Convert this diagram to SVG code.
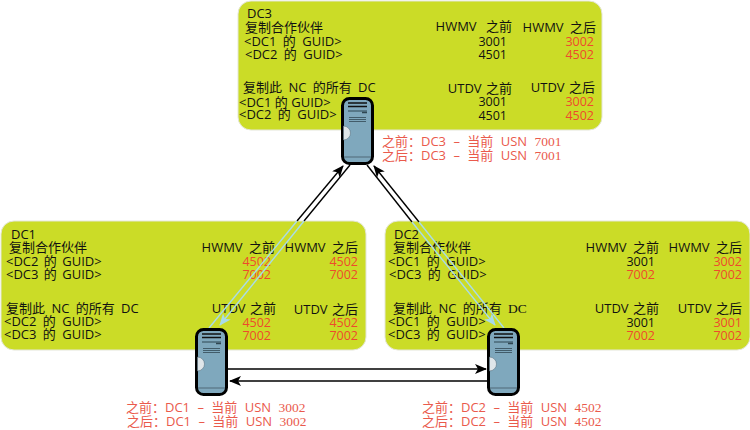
<svg xmlns="http://www.w3.org/2000/svg" width="750" height="430" viewBox="0 0 750 430">
<style>
text{font-family:"Open Sans","Noto Sans CJK SC",sans-serif;font-size:13px;fill:#111;white-space:pre}
.box{fill:#cbdc27;stroke:#e4e6d8;stroke-width:1}
.n{font-size:12.5px;text-anchor:end}
.r{fill:#ee4a2c}
.h{text-anchor:end;word-spacing:3px}
.u{text-anchor:end;word-spacing:1px}
.note{fill:#ea5a4c;word-spacing:4px}
.s{font-family:"Liberation Serif","Noto Sans CJK SC",serif;font-size:13.5px}
.l{fill:none;stroke:#000;stroke-width:1.4}
.b{fill:none;stroke:#a9dbe9;stroke-width:1.4}
</style>
<defs>
<marker id="ak" viewBox="0 0 12 10" refX="11" refY="5" markerWidth="12" markerHeight="10" markerUnits="userSpaceOnUse" orient="auto"><path d="M0 0L12 5L0 10L3 5Z" fill="#000"/></marker>
<marker id="ab" viewBox="0 0 12 10" refX="11" refY="5" markerWidth="12" markerHeight="10" markerUnits="userSpaceOnUse" orient="auto"><path d="M0 0L12 5L0 10L3 5Z" fill="#a9dbe9"/></marker>
<g id="srv">
<rect x="1.5" y="1.5" width="30" height="65" rx="7" fill="#7fa8bd" stroke="#000" stroke-width="3"/>
<path d="M2.500 29a7 7 0 0 1 0 14Z" fill="#dfe6ea" stroke="#5c7684" stroke-width=".6"/>
<path d="M7 6h19M7 9.500h19" stroke="#111" stroke-width="1.500"/>
<path d="M7 14h19" stroke="#2f4652" stroke-width="1"/>
<path d="M21 15.500h5" stroke="#2f4652" stroke-width="1.500"/>
<path d="M8 20.500h17M8 22.500h17M8 24.500h17" stroke="#3b5361" stroke-width=".9"/>
<path d="M3 60h27" stroke="#577483" stroke-width="1.200"/>
</g>
</defs>

<g id="dc3-panel">
<rect class="box" x="238" y="1" width="364" height="129" rx="13"/>
<text x="247" y="18">DC3</text>
<text x="245" y="32">复制合作伙伴</text>
<text x="244" y="46" style="word-spacing:3px">&lt;DC1 的 GUID&gt;</text>
<text x="245" y="59" style="word-spacing:3px">&lt;DC2 的 GUID&gt;</text>
<text x="243" y="92" style="word-spacing:3px">复制此 NC 的所有 DC</text>
<text x="239" y="107">&lt;DC1 的 GUID&gt;</text>
<text x="239" y="119" style="word-spacing:3px">&lt;DC2 的 GUID&gt;</text>
<text class="h" x="512" y="31" style="word-spacing:6px">HWMV 之前</text>
<text class="h" x="596" y="32">HWMV 之后</text>
<text class="n" x="507" y="46">3001</text>
<text class="n r" x="594" y="46">3002</text>
<text class="n" x="507" y="59">4501</text>
<text class="n r" x="594" y="59">4502</text>
<text class="u" x="512" y="93">UTDV 之前</text>
<text class="u" x="595" y="92">UTDV 之后</text>
<text class="n" x="507" y="106">3001</text>
<text class="n r" x="594" y="106">3002</text>
<text class="n" x="507" y="120">4501</text>
<text class="n r" x="594" y="120">4502</text>
</g>

<g id="dc1-panel">
<rect class="box" x="1" y="221" width="365" height="129" rx="13"/>
<text x="11" y="239">DC1</text>
<text x="9" y="252">复制合作伙伴</text>
<text x="6" y="266" style="word-spacing:2px">&lt;DC2 的 GUID&gt;</text>
<text x="6" y="279" style="word-spacing:2px">&lt;DC3 的 GUID&gt;</text>
<text x="6" y="313" style="word-spacing:3px">复制此 NC 的所有 DC</text>
<text x="4" y="326" style="word-spacing:3px">&lt;DC2 的 GUID&gt;</text>
<text x="4" y="339" style="word-spacing:3px">&lt;DC3 的 GUID&gt;</text>
<text class="h" x="275" y="252">HWMV 之前</text>
<text class="h" x="358" y="252">HWMV 之后</text>
<text class="n r" x="271" y="266">4502</text>
<text class="n r" x="358" y="266">4502</text>
<text class="n r" x="271" y="279">7002</text>
<text class="n r" x="358" y="279">7002</text>
<text class="u" x="276" y="313">UTDV 之前</text>
<text class="u" x="358" y="314">UTDV 之后</text>
<text class="n r" x="271" y="327">4502</text>
<text class="n r" x="358" y="327">4502</text>
<text class="n r" x="271" y="340">7002</text>
<text class="n r" x="358" y="340">7002</text>
</g>

<g id="dc2-panel">
<rect class="box" x="385" y="221" width="365" height="129" rx="13"/>
<text x="394" y="239">DC2</text>
<text x="393" y="252">复制合作伙伴</text>
<text x="388" y="266" style="word-spacing:3px">&lt;DC1 的 GUID&gt;</text>
<text x="389" y="279" style="word-spacing:3px">&lt;DC3 的 GUID&gt;</text>
<text x="393" y="313" style="word-spacing:3px">复制此 NC 的所有 <tspan class="s">DC</tspan></text>
<text x="388" y="326" style="word-spacing:3px">&lt;DC1 的 GUID&gt;</text>
<text x="388" y="339" style="word-spacing:3px">&lt;DC3 的 GUID&gt;</text>
<text class="h" x="659" y="252">HWMV 之前</text>
<text class="h" x="742" y="252">HWMV 之后</text>
<text class="n" x="655" y="266">3001</text>
<text class="n r" x="742" y="266">3002</text>
<text class="n r" x="655" y="279">7002</text>
<text class="n r" x="742" y="279">7002</text>
<text class="u" x="659" y="313">UTDV 之前</text>
<text class="u" x="742" y="313">UTDV 之后</text>
<text class="n" x="655" y="327">3001</text>
<text class="n r" x="742" y="327">3001</text>
<text class="n r" x="655" y="340">7002</text>
<text class="n r" x="742" y="340">7002</text>
</g>

<g id="connectors">
<path class="l" d="M297 221L343 166" marker-end="url(#ak)"/>
<path class="l" d="M350 165L304 221"/>
<path class="l" d="M419 222L374 166" marker-end="url(#ak)"/>
<path class="l" d="M367 165L412 222"/>
<path class="b" d="M209 328L297 221"/>
<path class="b" d="M304 221L220 325" marker-end="url(#ab)"/>
<path class="b" d="M504 328L419 222"/>
<path class="b" d="M412 222L495 325" marker-end="url(#ab)"/>
<path class="l" d="M228 369H486" marker-end="url(#ak)"/>
<path class="l" d="M487 381H230" marker-end="url(#ak)"/>
</g>

<use id="dc3-server" href="#srv" x="341" y="97"/>
<use id="dc1-server" href="#srv" x="195" y="328"/>
<use id="dc2-server" href="#srv" x="487" y="328"/>

<g id="dc3-notes">
<text class="note" x="382" y="146">之前：DC3 – 当前 USN <tspan class="s">7001</tspan></text>
<text class="note" x="382" y="160">之后：DC3 – 当前 USN <tspan class="s">7001</tspan></text>
</g>
<g id="dc1-notes">
<text class="note" x="126" y="412">之前：DC1 – 当前 USN <tspan class="s">3002</tspan></text>
<text class="note" x="127" y="426">之后：DC1 – 当前 USN <tspan class="s">3002</tspan></text>
</g>
<g id="dc2-notes">
<text class="note" x="422" y="412">之前：DC2 – 当前 USN <tspan class="s">4502</tspan></text>
<text class="note" x="422" y="426">之后：DC2 – 当前 USN <tspan class="s">4502</tspan></text>
</g>
</svg>
